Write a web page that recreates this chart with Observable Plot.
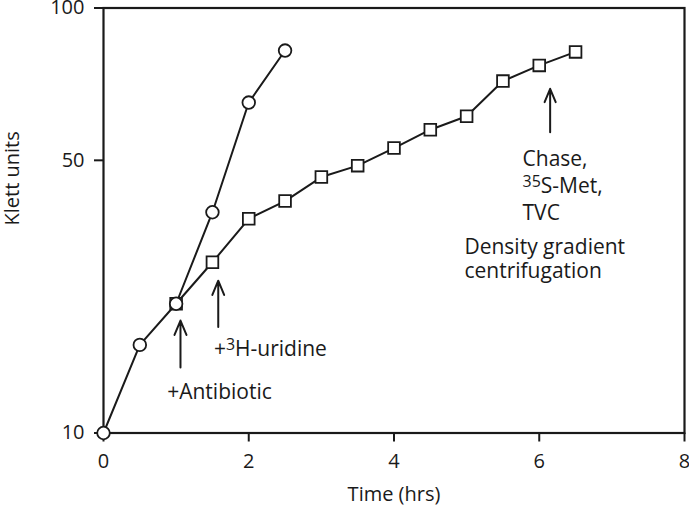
<!DOCTYPE html>
<html>
<head>
<meta charset="utf-8">
<script src="https://cdn.jsdelivr.net/npm/d3@7"></script>
<script src="https://cdn.jsdelivr.net/npm/@observablehq/plot@0.6"></script>
<style>
  html, body { margin: 0; padding: 0; background: #fff; }
  #chart svg { display: block; }
</style>
</head>
<body>
<div id="chart"></div>
<script>
// Data
const circleTime  = [0, 0.5, 1, 1.5, 2, 2.5];
const circleKlett = [10, 18.0, 23.1, 38.4, 65.9, 83.3];

const squareTime  = [1, 1.5, 2, 2.5, 3, 3.5, 4, 4.5, 5, 5.5, 6, 6.5];
const squareKlett = [23.1, 29.3, 37.1, 40.7, 46.0, 48.7, 53.1, 58.0, 61.8, 72.7, 78.0, 82.8];

const xTicks = [0, 2, 4, 6, 8];
const yTicks = [10, 50, 100];

// Annotation arrows (data units): x, bottom y, top y
const arrowX    = [1.06, 1.58, 6.15];
const arrowFrom = [15.6, 20.1, 57.3];
const arrowTo   = [20.9, 26.4, 70.2];

// Annotation texts (data units, left-aligned)
const noteText = ["+Antibiotic", "+\u00B3H-uridine", "Chase,\n\u00B3\u2075S-Met,\nTVC", "Density gradient\ncentrifugation"];
const noteX    = [0.877, 1.52, 5.77, 4.97];
const noteY    = [13.4, 17.7, 53.4, 33.6];
const noteLH   = [1.2, 1.2, 1.29, 1.12];

const circles = circleTime.map((t, i) => ({t, k: circleKlett[i]}));
const squares = squareTime.map((t, i) => ({t, k: squareKlett[i]}));
const arrows = arrowX.map((x, i) => ({x, y1: arrowFrom[i], y2: arrowTo[i]}));
const notes = noteText.map((s, i) => ({s, x: noteX[i], y: noteY[i], lh: noteLH[i]}));

const ink = "#1a1a1a";
const fs = 21;

const noteMarks = notes.map(n => Plot.text([n], {
  x: "x", y: "y", text: "s", textAnchor: "start", lineAnchor: n.s.includes("\n") ? "top" : "middle",
  lineHeight: n.lh, fontSize: fs, fill: ink
}));

const chart = Plot.plot({
  width: 689,
  height: 513,
  marginLeft: 103,
  marginRight: 5,
  marginTop: 7.5,
  marginBottom: 80.5,
  style: {fontFamily: "'Open Sans', Lato, sans-serif", color: ink, background: "#fff"},
  x: {domain: [0, 8]},
  y: {type: "pow", exponent: 0.23, domain: [10, 100]},
  marks: [
    Plot.frame({stroke: ink, strokeWidth: 2.2}),
    Plot.axisX({ticks: xTicks, tickSize: 9, tickPadding: 12, fontSize: 20, label: null, strokeWidth: 2}),
    Plot.axisY({ticks: yTicks, tickSize: 9, tickPadding: 10, fontSize: 20, label: null, strokeWidth: 2}),
    Plot.text(["Klett units"], {frameAnchor: "left", rotate: -90, dx: -91, dy: 5, fontSize: 20, fill: ink}),
    Plot.text(["Time (hrs)"], {frameAnchor: "bottom", dy: 68, fontSize: 20, fill: ink}),
    Plot.line(squares, {x: "t", y: "k", stroke: ink, strokeWidth: 2}),
    Plot.line(circles, {x: "t", y: "k", stroke: ink, strokeWidth: 2}),
    Plot.dot(squares, {x: "t", y: "k", symbol: "square", r: 6.6, fill: "#fff", stroke: ink, strokeWidth: 1.8}),
    Plot.dot(circles, {x: "t", y: "k", symbol: "circle", r: 6.3, fill: "#fff", stroke: ink, strokeWidth: 1.8}),
    Plot.arrow(arrows, {x1: "x", y1: "y1", x2: "x", y2: "y2", stroke: ink, strokeWidth: 2, headLength: 14, headAngle: 45}),
    ...noteMarks
  ]
});

// Turn superscript characters into raised tspans (keeps real text)
(function superscripts(svg) {
  const NS = "http://www.w3.org/2000/svg";
  const supMap = {"\u00B3": "3", "\u2075": "5"};
  const walker = document.createTreeWalker(svg, NodeFilter.SHOW_TEXT);
  const nodes = [];
  while (walker.nextNode()) nodes.push(walker.currentNode);
  for (const node of nodes) {
    const s = node.nodeValue;
    if (!/[\u00B3\u2075]/.test(s)) continue;
    const frag = document.createDocumentFragment();
    const re = /[\u00B3\u2075]+/g;
    let m, last = 0;
    while ((m = re.exec(s))) {
      if (m.index > last) frag.appendChild(document.createTextNode(s.slice(last, m.index)));
      const sup = document.createElementNS(NS, "tspan");
      sup.setAttribute("font-size", "0.76em");
      sup.setAttribute("baseline-shift", "6px");
      sup.textContent = [...m[0]].map(c => supMap[c]).join("");
      frag.appendChild(sup);
      last = m.index + m[0].length;
    }
    if (last < s.length) frag.appendChild(document.createTextNode(s.slice(last)));
    node.parentNode.replaceChild(frag, node);
  }
})(chart);

document.getElementById("chart").appendChild(chart);
</script>
</body>
</html>
